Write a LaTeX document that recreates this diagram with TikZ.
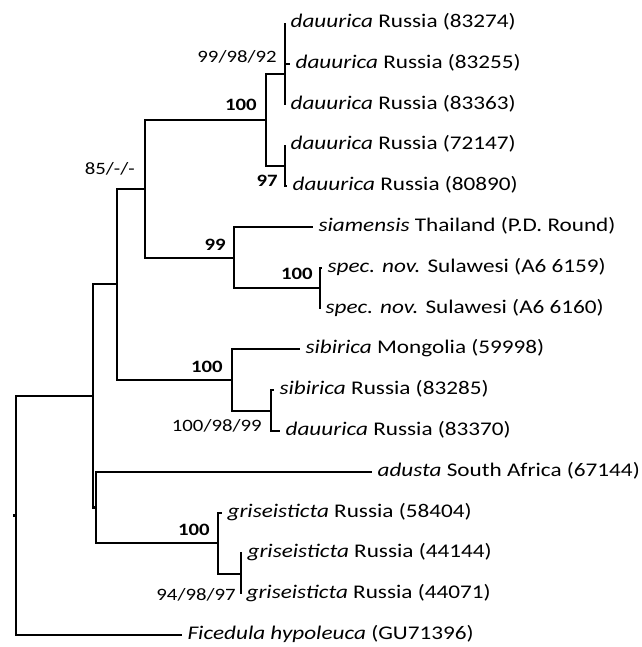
\documentclass[tikz,border=0pt]{standalone}
\usepackage{fontspec}
\setmainfont{Carlito}[FakeStretch=1.2]
\usepackage{tikz}

\tikzset{
  branch/.style={line width=1.6pt},
  taxon/.style={anchor=west, inner xsep=4pt, inner ysep=0pt, text height=1.7ex, text depth=0.3ex, font=\fontsize{14.5}{17}\selectfont},
  support/.style={anchor=east, inner sep=0pt, text height=1.4ex, text depth=0pt, font=\fontsize{13}{15}\selectfont},
}

\begin{document}
\begin{tikzpicture}[x=0.75pt,y=0.75pt,yscale=-1,xscale=1]
\useasboundingbox (0,0) rectangle (642,647);

%Inner nodes
\coordinate (nA1) at (285,43.4);
\coordinate (nA) at (285,74);
\coordinate (nB) at (285,165.8);
\coordinate (nC) at (266,119.9);
\coordinate (nF) at (320,288.2);
\coordinate (nE) at (234,257.6);
\coordinate (nD) at (145,188.8);
\coordinate (nH) at (271,410.6);
\coordinate (nG) at (232,379.9);
\coordinate (nI) at (117,284.3);
\coordinate (nL) at (241,573.8);
\coordinate (nK) at (218,543.2);
\coordinate (nJ) at (96,507.5);
\coordinate (nM) at (93,395.9);
\coordinate (root) at (16,515.5);
\coordinate (stem) at (13,515.5);

% Text Node
\node[taxon] (t0) at (285,23) {\textit{dauurica} Russia (83274)};
\node[taxon] (t1) at (290,63.8) {\textit{dauurica} Russia (83255)};
\node[taxon] (t2) at (285,104.6) {\textit{dauurica} Russia (83363)};
\node[taxon] (t3) at (285,145.4) {\textit{dauurica} Russia (72147)};
\node[taxon] (t4) at (287,186.2) {\textit{dauurica} Russia (80890)};
\node[taxon] (t5) at (313,227) {\textit{siamensis} Thailand (P.D. Round)};
\node[taxon] (t6) at (322,267.8) {\textit{spec. nov.} Sulawesi (A6 6159)};
\node[taxon] (t7) at (320,308.6) {\textit{spec. nov.} Sulawesi (A6 6160)};
\node[taxon] (t8) at (300,349.4) {\textit{sibirica} Mongolia (59998)};
\node[taxon] (t9) at (274,390.2) {\textit{sibirica} Russia (83285)};
\node[taxon] (t10) at (280,431) {\textit{dauurica} Russia (83370)};
\node[taxon] (t11) at (372,471.8) {\textit{adusta} South Africa (67144)};
\node[taxon] (t12) at (222,512.6) {\textit{griseisticta} Russia (58404)};
\node[taxon] (t13) at (242,553.4) {\textit{griseisticta} Russia (44144)};
\node[taxon] (t14) at (241,594.2) {\textit{griseisticta} Russia (44071)};
\node[taxon] (t15) at (182,635) {\textit{Ficedula hypoleuca} (GU71396)};

%Branches
\draw[branch] (nA1) |- (t0) (nA1) |- (t1);
\draw[branch] (nA) |- (nA1) (nA) |- (t2);
\draw[branch] (nB) |- (t3) (nB) |- (t4);
\draw[branch] (nC) |- (nA) (nC) |- (nB);
\draw[branch] (nF) |- (t6) (nF) |- (t7);
\draw[branch] (nE) |- (t5) (nE) |- (nF);
\draw[branch] (nD) |- (nC) (nD) |- (nE);
\draw[branch] (nH) |- (t9) (nH) |- (t10);
\draw[branch] (nG) |- (t8) (nG) |- (nH);
\draw[branch] (nI) |- (nD) (nI) |- (nG);
\draw[branch] (nL) |- (t13) (nL) |- (t14);
\draw[branch] (nK) |- (t12) (nK) |- (nL);
\draw[branch] (nJ) |- (t11) (nJ) |- (nK);
\draw[branch] (nM) |- (nI) (nM) |- (nJ);
\draw[branch] (root) |- (nM) (root) |- (t15);
\draw[branch] (stem) -- (root);

% Support values
\node[support] (sA) at (277,58) {99/98/92};
\node[support] (sC) at (257,106) {\textbf{100}};
\node[support] (sB) at (278,182) {\textbf{97}};
\node[support] (sD) at (135,170) {85/-/-};
\node[support] (sE) at (226,246) {\textbf{99}};
\node[support] (sF) at (313,275) {\textbf{100}};
\node[support] (sG) at (223,368) {\textbf{100}};
\node[support] (sH) at (262,427) {100/98/99};
\node[support] (sK) at (210,531) {\textbf{100}};
\node[support] (sL) at (236,596) {94/98/97};

\end{tikzpicture}
\end{document}
